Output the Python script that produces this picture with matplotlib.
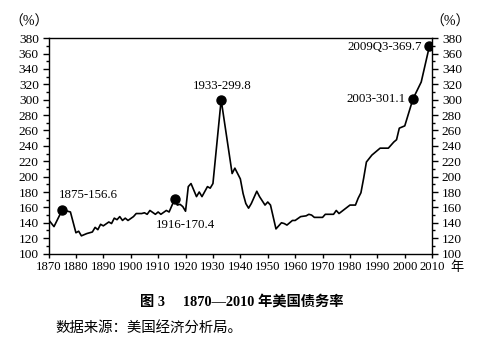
import matplotlib
matplotlib.use('Agg')
import matplotlib.pyplot as plt
from matplotlib.ticker import MultipleLocator

# --- data ---
years = [1870, 1872, 1875, 1876, 1878, 1880, 1881, 1882, 1884, 1886,
         1887, 1888, 1889, 1890, 1892, 1893, 1894, 1895, 1896, 1897,
         1898, 1899, 1901, 1902, 1904, 1905, 1906, 1907, 1909, 1910,
         1911, 1913, 1914, 1916, 1917, 1918, 1919, 1920, 1921, 1922,
         1924, 1925, 1926, 1928, 1929, 1930, 1933, 1937, 1938, 1939,
         1940, 1941, 1942, 1943, 1944, 1946, 1947, 1949, 1950, 1951,
         1953, 1955, 1956, 1957, 1959, 1960, 1962, 1964, 1965, 1966,
         1967, 1970, 1971, 1974, 1975, 1976, 1980, 1982, 1983, 1984,
         1985, 1986, 1988, 1991, 1994, 1996, 1997, 1998, 2000, 2003,
         2006, 2009]
debt_ratio = [144, 135, 156.6, 156, 154, 127, 129, 123, 126, 128,
              134, 131, 138, 136, 141, 139, 146, 144, 148, 143,
              146, 143, 148, 152, 152, 153, 151, 156, 151, 154,
              151, 156, 154, 170.4, 163, 164, 161, 155, 187, 191,
              174, 180, 174, 187, 185, 191, 299.8, 204, 211, 204,
              197, 178, 165, 159, 165, 181, 174, 163, 167, 163,
              132, 140, 139, 137, 143, 143, 148, 149, 151, 150,
              147, 147, 151, 151, 156, 152, 163, 163, 172, 179,
              198, 219, 228, 237, 237, 245, 248, 263, 266, 301.1,
              323, 369.7]

mark_years = [1875, 1916, 1933, 2003, 2009]
mark_values = [156.6, 170.4, 299.8, 301.1, 369.7]
mark_labels = ['1875-156.6', '1916-170.4', '1933-299.8', '2003-301.1', '2009Q3-369.7']

# label placement (offset in points, horizontal alignment)
label_offsets = [(18.5, 11), (8, -18.5), (1, 10), (-5.5, 0), (-5.5, -1)]
label_ha = ['center', 'center', 'center', 'right', 'right']

plt.rcParams['font.family'] = ['Liberation Serif', 'Noto Sans CJK SC']
plt.rcParams['axes.unicode_minus'] = False

fig = plt.figure(figsize=(4.9, 3.44), dpi=100)
ax = fig.add_axes([0.099, 0.263, 0.783, 0.626])

ax.plot(years, debt_ratio, color='black', linewidth=1.2)
ax.plot(mark_years, mark_values, 'o', color='black', markersize=6.5)

for yr, val, lab, off, ha in zip(mark_years, mark_values, mark_labels, label_offsets, label_ha):
    ax.annotate(lab, (yr, val), xytext=off, textcoords='offset points',
                ha=ha, va='center', fontsize=9.3)

ax.set_xlim(1870, 2010)
ax.set_ylim(100, 380)
ax.xaxis.set_major_locator(MultipleLocator(10))
ax.yaxis.set_major_locator(MultipleLocator(20))
ax.yaxis.set_minor_locator(MultipleLocator(10))

for sp in ax.spines.values():
    sp.set_linewidth(1.0)

ax.tick_params(axis='y', which='both', left=True, right=True,
               labelleft=True, labelright=True, direction='out', width=1.0)
ax.tick_params(axis='y', which='major', length=4.5, labelsize=9.6, pad=2.5)
ax.tick_params(axis='y', which='minor', length=2.2)
ax.tick_params(axis='x', which='major', direction='out', length=3,
               width=1.0, labelsize=9.2, pad=2.5)

fig.text(29 / 490, 1 - 22.5 / 344, '（%）', ha='center', va='center', fontsize=10)
fig.text(450 / 490, 1 - 22.5 / 344, '（%）', ha='center', va='center', fontsize=10)
fig.text(457 / 490, 1 - 268 / 344, '年', ha='center', va='center', fontsize=9.5,
         family='Noto Sans CJK SC')

fig.text(241.7 / 490, 1 - 301.7 / 344, '图 3\u2003 1870—2010 年美国债务率',
         ha='center', va='center', fontsize=10.3, fontweight='bold')
fig.text(55 / 490, 1 - 327.7 / 344, '数据来源：美国经济分析局。',
         ha='left', va='center', fontsize=10.4, family='Noto Sans CJK SC')

fig.savefig('out.png', dpi=100)
